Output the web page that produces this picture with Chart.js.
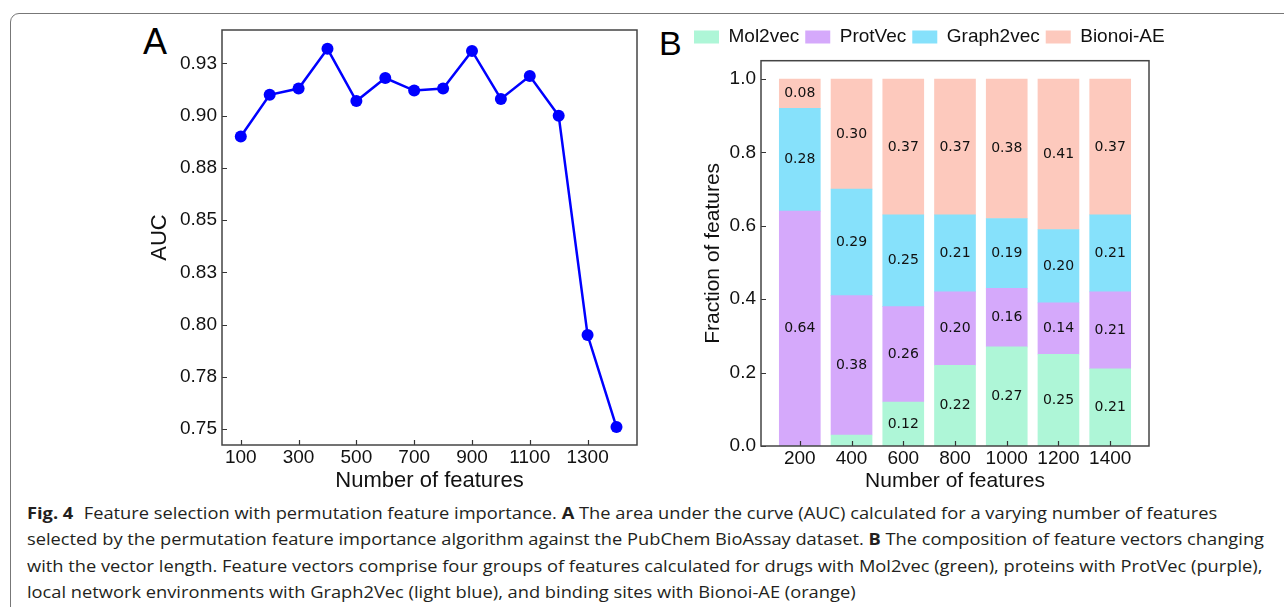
<!DOCTYPE html>
<html>
<head>
<meta charset="utf-8">
<script src="https://cdn.jsdelivr.net/npm/chart.js@4.4.1/dist/chart.umd.min.js"></script>
<style>
  html, body { margin: 0; padding: 0; background: #fff; width: 1284px; height: 607px; overflow: hidden; }
  .frame { position: absolute; left: 10px; top: 13px; width: 1300px; height: 620px; border: 1px solid #777; border-radius: 9px; box-sizing: border-box; }
  .letter { position: absolute; font-family: "Liberation Sans", Arial, sans-serif; line-height: 1; color: #000; }
  canvas { position: absolute; }
  .caption { position: absolute; left: 27px; top: 499.5px; font-family: "Open Sans", sans-serif; font-size: 16px; line-height: 26.5px; color: #231f20; }
  .caption div { white-space: nowrap; transform-origin: 0 50%; width: max-content; }
  .caption b { font-weight: 700; }
</style>
</head>
<body>
<div class="frame"></div>
<div class="letter" style="left:143px; top:24px; font-size:36px;">A</div>
<div class="letter" style="left:659px; top:25.5px; font-size:34px;">B</div>
<canvas id="chartA" width="510" height="487" style="left:140px; top:13px;"></canvas>
<canvas id="chartB" width="560" height="480" style="left:655px; top:20px;"></canvas>
<div class="caption" id="caption">
  <div><b style="margin-right:5px">Fig. 4</b> Feature selection with permutation feature importance. <b>A</b> The area under the curve (AUC) calculated for a varying number of features</div>
  <div>selected by the permutation feature importance algorithm against the PubChem BioAssay dataset. <b>B</b> The composition of feature vectors changing</div>
  <div>with the vector length. Feature vectors comprise four groups of features calculated for drugs with Mol2vec (green), proteins with ProtVec (purple),</div>
  <div>local network environments with Graph2Vec (light blue), and binding sites with Bionoi-AE (orange)</div>
</div>
<script>
// panel A: AUC vs number of features
const nFeaturesA = [100, 200, 300, 400, 500, 600, 700, 800, 900, 1000, 1100, 1200, 1300, 1400];
const aucValues = [0.890, 0.910, 0.913, 0.932, 0.907, 0.918, 0.912, 0.913, 0.931, 0.908, 0.919, 0.900, 0.795, 0.751];
const aucTicks = [0.75, 0.775, 0.8, 0.825, 0.85, 0.875, 0.9, 0.925];
const aucTickLabels = ['0.75', '0.78', '0.80', '0.83', '0.85', '0.88', '0.90', '0.93'];
const featTicksA = [100, 300, 500, 700, 900, 1100, 1300];

// panel B: composition of the feature vectors
const nFeaturesB = [200, 400, 600, 800, 1000, 1200, 1400];
const mol2vec = [0.00, 0.03, 0.12, 0.22, 0.27, 0.25, 0.21];
const protVec = [0.64, 0.38, 0.26, 0.20, 0.16, 0.14, 0.21];
const graph2vec = [0.28, 0.29, 0.25, 0.21, 0.19, 0.20, 0.21];
const bionoiAE = [0.08, 0.30, 0.37, 0.37, 0.38, 0.41, 0.37];
const fracTicks = [0, 0.2, 0.4, 0.6, 0.8, 1.0];
const fracTickLabels = ['0.0', '0.2', '0.4', '0.6', '0.8', '1.0'];

const axisFont = { family: '"Liberation Sans", Arial, sans-serif', size: 19 };
const noGrid = { display: false, drawTicks: false };

// box round the plot area and short ticks pointing inwards
const frameTicks = {
  id: 'frameTicks',
  afterDraw(chart) {
    const { ctx, chartArea: a, scales: { x, y } } = chart;
    ctx.save();
    ctx.strokeStyle = '#333';
    ctx.lineWidth = 1.2;
    ctx.beginPath();
    x.ticks.forEach(t => {
      const px = Math.round(x.getPixelForValue(t.value)) + 0.5;
      ctx.moveTo(px, a.bottom);
      ctx.lineTo(px, a.bottom - 5);
    });
    y.ticks.forEach(t => {
      const py = Math.round(y.getPixelForValue(t.value)) + 0.5;
      ctx.moveTo(a.left, py);
      ctx.lineTo(a.left + 5, py);
    });
    ctx.stroke();
    ctx.lineWidth = 1.5;
    ctx.strokeStyle = '#444';
    ctx.strokeRect(a.left, a.top, a.right - a.left, a.bottom - a.top);
    ctx.restore();
  }
};

new Chart(document.getElementById('chartA'), {
  type: 'line',
  data: {
    datasets: [{
      data: nFeaturesA.map((n, i) => ({ x: n, y: aucValues[i] })),
      borderColor: '#0000ff',
      backgroundColor: '#0000ff',
      borderWidth: 2.5,
      pointRadius: 6,
      pointBorderWidth: 0,
      tension: 0
    }]
  },
  options: {
    responsive: false,
    animation: false,
    events: [],
    layout: { padding: { left: 0, right: 13, top: 17, bottom: 0 } },
    plugins: { legend: { display: false }, tooltip: { enabled: false } },
    scales: {
      x: {
        type: 'linear', min: 35, max: 1471,
        grid: noGrid, border: { display: false },
        afterBuildTicks: s => { s.ticks = featTicksA.map(v => ({ value: v })); },
        afterFit: s => { s.height = 55; },
        ticks: { font: axisFont, color: '#111', padding: 1, maxRotation: 0, callback: v => String(v) },
        title: { display: true, text: 'Number of features', color: '#111', font: { family: axisFont.family, size: 22 }, padding: { top: 0, bottom: 6 } }
      },
      y: {
        type: 'linear', min: 0.7424, max: 0.941,
        grid: noGrid, border: { display: false },
        afterBuildTicks: s => { s.ticks = aucTicks.map(v => ({ value: v })); },
        afterFit: s => { s.width = 82; },
        ticks: { font: axisFont, color: '#111', padding: 5, callback: (v, i) => aucTickLabels[i] },
        title: { display: true, text: 'AUC', color: '#111', font: { family: axisFont.family, size: 22 }, padding: { top: 7, bottom: 0 } }
      }
    }
  },
  plugins: [frameTicks]
});

// numbers written in the middle of each stacked piece
const barLabels = {
  id: 'barLabels',
  afterDatasetsDraw(chart) {
    const ctx = chart.ctx;
    ctx.save();
    ctx.font = '14px "DejaVu Sans"';
    ctx.fillStyle = '#111';
    ctx.textAlign = 'center';
    ctx.textBaseline = 'middle';
    chart.data.datasets.forEach((ds, i) => {
      chart.getDatasetMeta(i).data.forEach((bar, j) => {
        const v = ds.data[j].y;
        if (v < 0.05) return;
        const p = bar.getProps(['x', 'y', 'base'], true);
        ctx.fillText(v.toFixed(2), p.x, (p.y + p.base) / 2);
      });
    });
    ctx.restore();
  }
};

const groups = [
  { label: 'Mol2vec', values: mol2vec, color: '#aef6d7' },
  { label: 'ProtVec', values: protVec, color: '#d5a9fb' },
  { label: 'Graph2vec', values: graph2vec, color: '#86e1fb' },
  { label: 'Bionoi-AE', values: bionoiAE, color: '#fdc9bd' }
];

// empty axes only used as spacers so the legend can be wider than the plot
const spacer = { type: 'linear', display: true, grid: noGrid, border: { display: false }, ticks: { display: false } };

new Chart(document.getElementById('chartB'), {
  type: 'bar',
  data: {
    datasets: groups.map(g => ({
      label: g.label,
      data: nFeaturesB.map((n, i) => ({ x: n, y: g.values[i] })),
      backgroundColor: g.color,
      borderWidth: 0,
      barThickness: 41
    }))
  },
  options: {
    responsive: false,
    animation: false,
    events: [],
    layout: { padding: { left: 33, right: 15, top: 1.5, bottom: 0 } },
    plugins: {
      tooltip: { enabled: false },
      legend: {
        position: 'top',
        align: 'start',
        labels: { font: axisFont, color: '#111', boxWidth: 25, boxHeight: 13, padding: 6 }
      }
    },
    scales: {
      x: {
        type: 'linear', min: 50, max: 1550, stacked: true, offset: false,
        grid: noGrid, border: { display: false },
        afterBuildTicks: s => { s.ticks = nFeaturesB.map(v => ({ value: v })); },
        afterFit: s => { s.height = 54; },
        ticks: { font: axisFont, color: '#111', padding: 1, maxRotation: 0, callback: v => String(v) },
        title: { display: true, text: 'Number of features', color: '#111', font: { family: axisFont.family, size: 21 }, padding: { top: 0, bottom: 6 } }
      },
      y: {
        type: 'linear', min: 0, max: 1.05, stacked: true,
        grid: noGrid, border: { display: false },
        afterBuildTicks: s => { s.ticks = fracTicks.map(v => ({ value: v })); },
        afterFit: s => { s.width = 73; },
        ticks: { font: axisFont, color: '#111', padding: 5, callback: (v, i) => fracTickLabels[i] },
        title: { display: true, text: 'Fraction of features', color: '#111', font: { family: axisFont.family, size: 21 }, padding: { top: 12.4, bottom: 0 } }
      },
      xTop: Object.assign({ position: 'top', afterFit: s => { s.height = 4.2; } }, spacer),
      yRight: Object.assign({ position: 'right', afterFit: s => { s.width = 51; } }, spacer)
    }
  },
  plugins: [frameTicks, barLabels]
});

// squeeze the caption lines to the width of the printed caption
function fitCaption() {
  const lines = document.querySelectorAll('#caption div');
  lines.forEach(l => { l.style.transform = 'none'; });
  const s = 1237 / lines[1].getBoundingClientRect().width;
  lines.forEach(l => { l.style.transform = 'scaleX(' + s + ')'; });
}
fitCaption();
document.fonts.ready.then(fitCaption);
</script>
</body>
</html>
